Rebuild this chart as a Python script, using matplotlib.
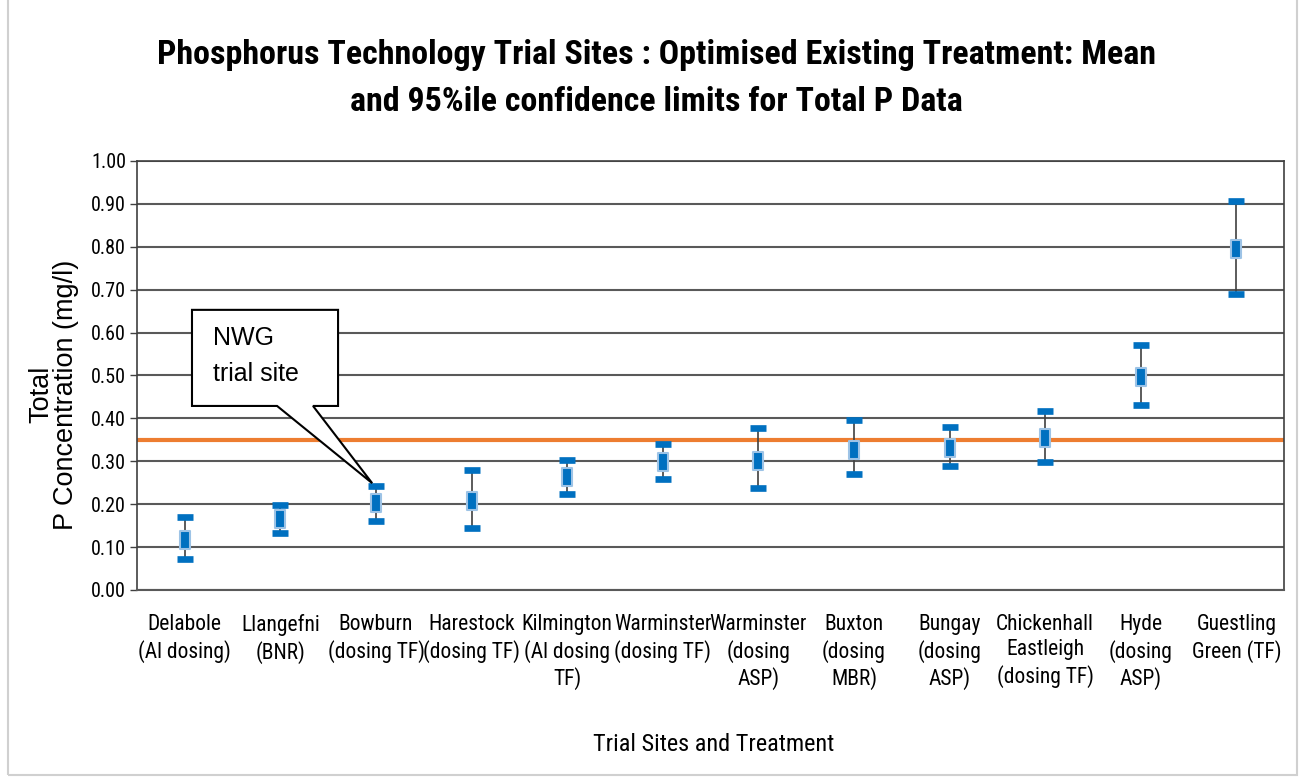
import matplotlib
matplotlib.use("Agg")
import matplotlib.pyplot as plt
from matplotlib.patches import Polygon, Rectangle
from matplotlib.path import Path
from matplotlib import font_manager


def _w(f):
    try:
        return int(f.weight)
    except (TypeError, ValueError):
        return 700 if 'bold' in str(f.weight).lower() else 400


def pick(cands, bold=False):
    for name in cands:
        for f in font_manager.fontManager.ttflist:
            if f.name == name and f.style == 'normal' and (_w(f) >= 700 if bold else _w(f) <= 500):
                return name
    return 'Liberation Sans'


COND_LIST = ['Roboto Condensed', 'IBM Plex Sans Condensed', 'Archivo Narrow', 'PT Sans Narrow']
COND = pick(COND_LIST)
COND_B = pick(COND_LIST, bold=True)
REG = 'Liberation Sans'

sites = ["Delabole\n(Al dosing)", "Llangefni\n(BNR)", "Bowburn\n(dosing TF)", "Harestock\n(dosing TF)",
         "Kilmington\n(Al dosing\nTF)", "Warminster\n(dosing TF)", "Warminster\n(dosing\nASP)",
         "Buxton\n(dosing\nMBR)", "Bungay\n(dosing\nASP)", "Chickenhall\nEastleigh\n(dosing TF)",
         "Hyde\n(dosing\nASP)", "Guestling\nGreen (TF)"]
mean_p = [0.117, 0.165, 0.202, 0.208, 0.263, 0.298, 0.300, 0.326, 0.331, 0.355, 0.497, 0.794]
upper_p = [0.171, 0.198, 0.243, 0.280, 0.303, 0.340, 0.378, 0.396, 0.380, 0.417, 0.571, 0.907]
lower_p = [0.072, 0.134, 0.161, 0.145, 0.224, 0.258, 0.238, 0.270, 0.289, 0.298, 0.431, 0.689]
target = 0.35
yticks = [0.0, 0.1, 0.2, 0.3, 0.4, 0.5, 0.6, 0.7, 0.8, 0.9, 1.0]

fig = plt.figure(figsize=(13.05, 7.8), dpi=100)
fig.patches.append(Rectangle((0.006, 0.006), 0.988, 1.2, transform=fig.transFigure,
                             fill=False, edgecolor='#d0d0d0', linewidth=1.5))
ax = fig.add_axes([0.105, 0.2436, 0.879, 0.55])

x = list(range(len(sites)))
ax.set_xlim(-0.5, len(sites) - 0.5)
ax.set_ylim(0, 1.0)
ax.set_yticks(yticks)
ax.set_yticklabels([f"{v:.2f}" for v in yticks], fontfamily=COND, fontsize=14.5)
ax.yaxis.grid(True, color='#595959', linewidth=1.5)
ax.set_axisbelow(True)
for s in ax.spines.values():
    s.set_color('#404040')
    s.set_linewidth(1.2)
ax.spines['bottom'].set_color('#595959')
ax.spines['bottom'].set_linewidth(1.5)
ax.tick_params(axis='y', length=5, width=1, color='#404040', pad=3)
ax.tick_params(axis='x', length=0, pad=17.5)
ax.set_xticks(x)
ax.set_xticklabels(sites, fontfamily=COND, fontsize=15.5, linespacing=1.25)

ax.axhline(target, color='#ED7D31', linewidth=3, zorder=2)

# error bars
for i in x:
    ax.plot([i, i], [lower_p[i], upper_p[i]], color='#404040', linewidth=1.2, zorder=3)
for vals in (upper_p, lower_p):
    ax.plot(x, vals, linestyle='none', marker='_', markersize=12, markeredgewidth=4.8,
            color='#0070C0', zorder=4)
rect = Path([(-0.3, -0.5), (0.3, -0.5), (0.3, 0.5), (-0.3, 0.5), (-0.3, -0.5)],
            [Path.MOVETO, Path.LINETO, Path.LINETO, Path.LINETO, Path.CLOSEPOLY])
ax.plot(x, mean_p, linestyle='none', marker=rect, markersize=13, markerfacecolor='#0070C0',
        markeredgecolor='#9DC3E6', markeredgewidth=1.5, zorder=5)

# callout
bx0, bx1, by0, by1 = 0.075, 1.603, 0.429, 0.653
tip = (x[2] - 0.04, upper_p[2] + 0.006)
callout = Polygon([(bx0, by1), (bx1, by1), (bx1, by0), (1.341, by0), tip, (0.965, by0), (bx0, by0)],
                  closed=True, facecolor='white', edgecolor='black', linewidth=1.5, zorder=6)
ax.add_patch(callout)
ax.text(bx0 + 0.22, 0.546, "NWG\ntrial site", fontfamily=REG, fontsize=18,
        va='center', ha='left', linespacing=1.65, zorder=7)

ax.set_ylabel("Total\nP Concentration (mg/l)", fontfamily=REG, fontsize=19.5,
              linespacing=0.95, va='center')
ax.yaxis.set_label_coords(-0.0725, 0.455)
ax.set_xlabel("Trial Sites and Treatment", fontfamily=COND, fontsize=17.5, va='center')
ax.xaxis.set_label_coords(0.503, -0.36)

fig.text(0.503, 0.899, "Phosphorus Technology Trial Sites : Optimised Existing Treatment: Mean\n"
         "and 95%ile confidence limits for Total P Data", ha='center', va='center',
         fontfamily=COND_B, fontsize=24.5, fontweight='bold', linespacing=1.6)

fig.savefig("out.png", dpi=100)
